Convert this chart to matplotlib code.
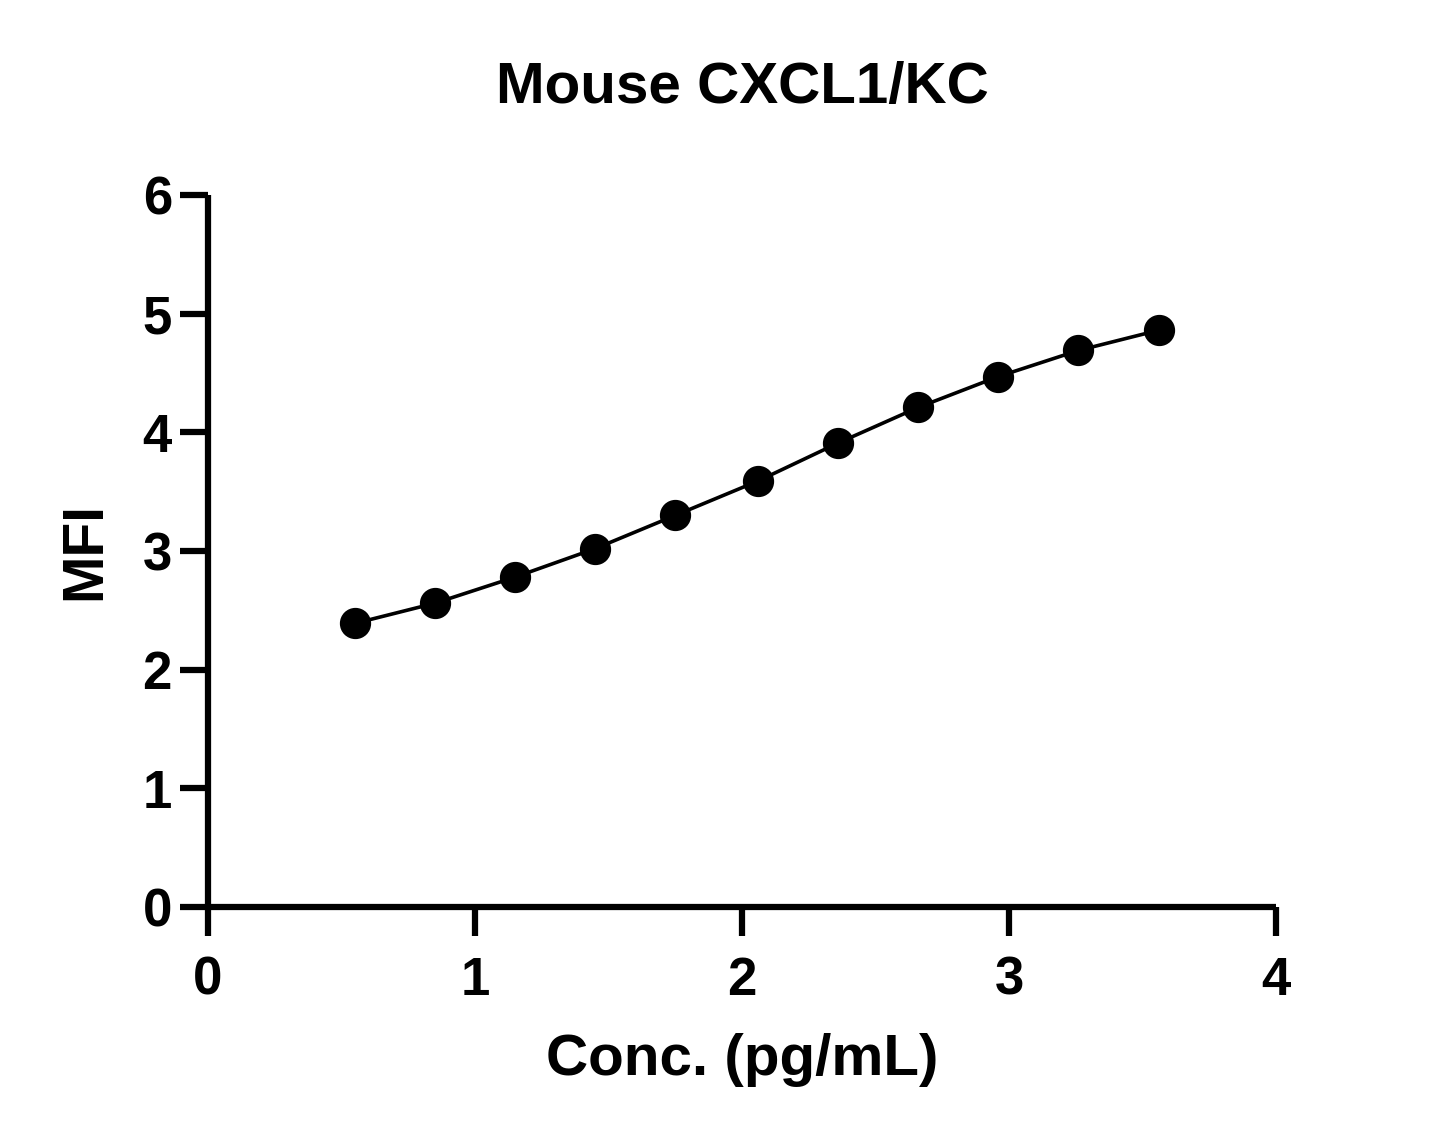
import matplotlib
matplotlib.use("Agg")
import matplotlib.pyplot as plt

# Standard curve readings
conc = [0.55, 0.85, 1.15, 1.45, 1.75, 2.06, 2.36, 2.66, 2.96, 3.26, 3.56]
mfi = [2.39, 2.56, 2.78, 3.02, 3.30, 3.59, 3.91, 4.21, 4.47, 4.69, 4.86]

x_ticks = [0, 1, 2, 3, 4]
y_ticks = [0, 1, 2, 3, 4, 5, 6]

plt.rcParams["font.family"] = ["Liberation Sans", "DejaVu Sans"]
plt.rcParams["font.weight"] = "bold"

fig = plt.figure(figsize=(14.45, 11.47), dpi=100)
ax = fig.add_axes([208 / 1445, 1 - 907 / 1147, (1276 - 208) / 1445, (907 - 195) / 1147])

ax.plot(conc, mfi, color="black", linewidth=2.6, marker="o", markersize=21.5,
        markerfacecolor="black", markeredgecolor="black", clip_on=False)

ax.set_xlim(0, 4)
ax.set_ylim(0, 6)
ax.set_xticks(x_ticks)
ax.set_yticks(y_ticks)

for side in ["top", "right"]:
    ax.spines[side].set_visible(False)
for side in ["left", "bottom"]:
    ax.spines[side].set_linewidth(4.5)
    ax.spines[side].set_capstyle("butt")

ax.tick_params(axis="x", direction="out", length=21, width=4.5, pad=14, labelsize=38)
ax.tick_params(axis="y", direction="out", length=20, width=4.5, pad=6, labelsize=38)
for lbl in ax.get_xticklabels() + ax.get_yticklabels():
    lbl.set_fontweight("bold")

ax.set_xlabel("Conc. (pg/mL)", fontsize=42, fontweight="bold", labelpad=20)
ax.set_ylabel("MFI", fontsize=41, fontweight="bold", labelpad=22)
ax.set_title("Mouse CXCL1/KC", fontsize=42, fontweight="bold", pad=66)

fig.savefig("out.png", dpi=100)
